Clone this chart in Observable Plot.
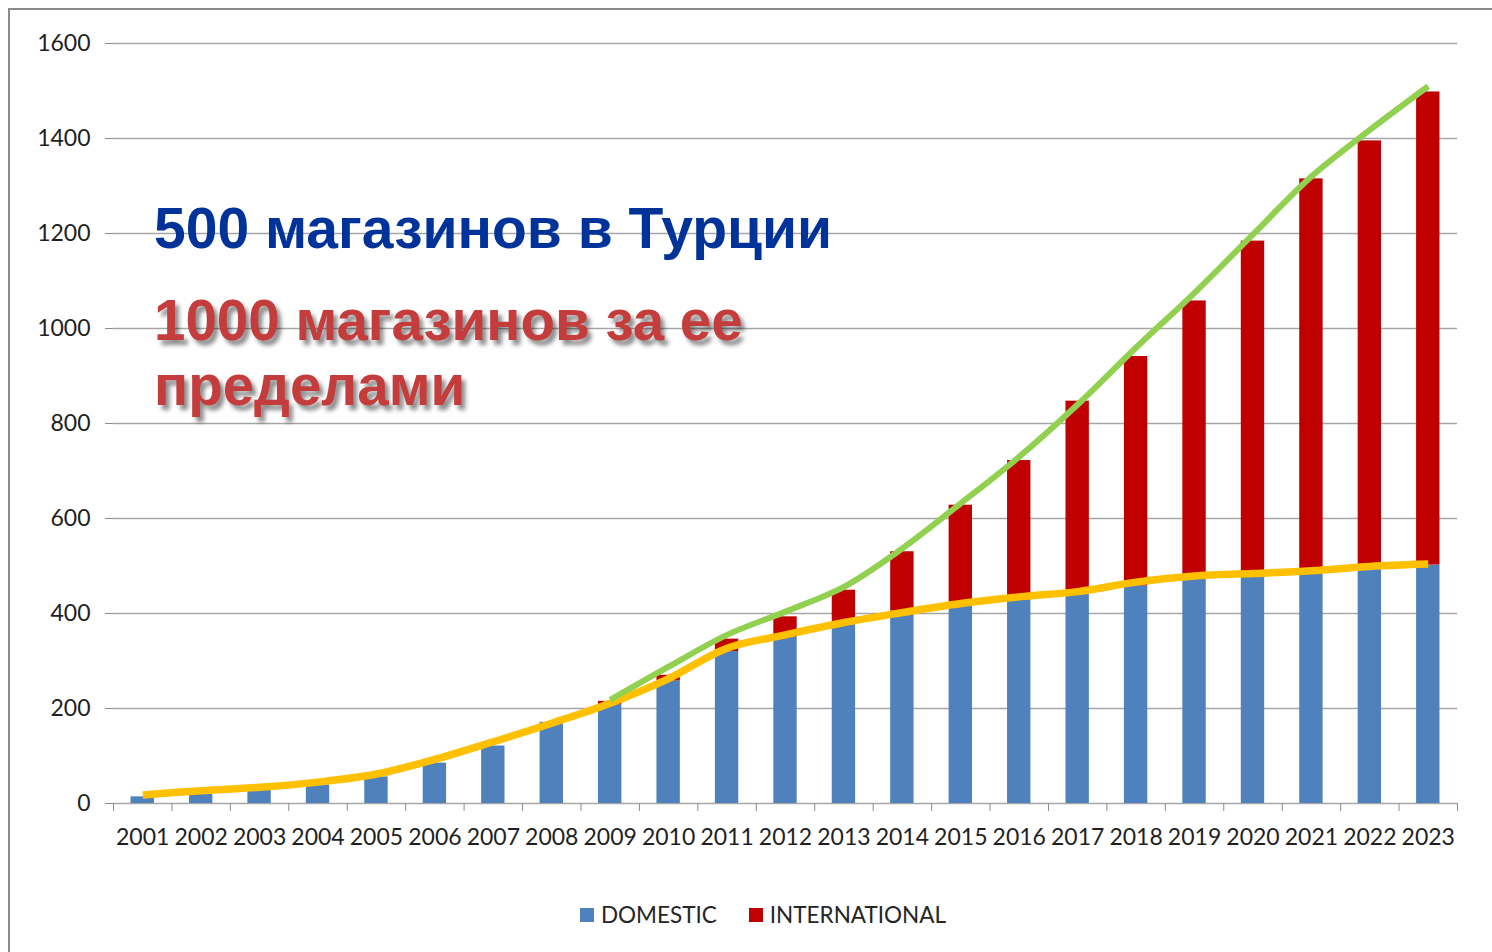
<!DOCTYPE html>
<html>
<head>
<meta charset="utf-8">
<script src="https://cdn.jsdelivr.net/npm/d3@7"></script>
<script src="https://cdn.jsdelivr.net/npm/@observablehq/plot@0.6"></script>
<style>
  html, body { margin: 0; padding: 0; background: #fff; }
  #wrap { position: relative; width: 1492px; height: 952px; overflow: hidden; background: #fff; }
  #frameTop { position: absolute; left: 8px; top: 8px; right: 0; height: 2px; background: #8a8a8a; }
  #frameLeft { position: absolute; left: 8px; top: 8px; bottom: 0; width: 2px; background: #8a8a8a; }
  #chart { position: absolute; left: 0; top: 0; }
  .note { position: absolute; left: 154px; font-family: "Liberation Sans", Arial, sans-serif; font-weight: bold; line-height: 65px; white-space: nowrap; }
  #note1 { top: 196px; color: #003399; font-size: 57px; }
  #note2 { top: 288px; color: #C43C3C; font-size: 56.5px; text-shadow: 4px 5px 4px rgba(0,0,0,0.45); }
  #legend { position: absolute; top: 901px; left: 0; width: 1492px; display: flex; justify-content: center; gap: 32px; font-family: Lato, "Open Sans", sans-serif; font-size: 22.5px; color: #262626; padding-left: 34px; box-sizing: border-box; }
  #legend .item { display: flex; align-items: center; gap: 7px; }
  #legend .sw { width: 14px; height: 14px; display: inline-block; }
</style>
</head>
<body>
<div id="wrap">
  <div id="chart"></div>
  <div id="frameTop"></div>
  <div id="frameLeft"></div>
  <div class="note" id="note1">500 магазинов в Турции</div>
  <div class="note" id="note2">1000 магазинов за ее<br>пределами</div>
  <div id="legend"></div>
</div>
<script>
const years = ["2001","2002","2003","2004","2005","2006","2007","2008","2009","2010","2011","2012","2013","2014","2015","2016","2017","2018","2019","2020","2021","2022","2023"];
const domestic =      [14, 19, 28, 39, 56, 85, 121, 171, 208, 258, 320, 350, 380, 405, 425, 437, 447, 458, 472, 480, 487, 493, 502];
const international = [0, 0, 0, 0, 0, 0, 0, 0, 7, 12, 26, 43, 69, 125, 203, 285, 400, 483, 586, 704, 828, 902, 996];
const domesticTrend = [18, 27, 34, 45, 62, 93, 130, 169, 211, 263, 327, 355, 381, 402, 421, 435, 446, 466, 479, 484, 490, 499, 504];
const totalTrendYears = ["2009","2010","2011","2012","2013","2014","2015","2016","2017","2018","2019","2020","2021","2022","2023"];
const totalTrend = [218, 288, 355, 404, 456, 537, 632, 730, 840, 960, 1075, 1198, 1320, 1418, 1510];
const seriesNames = ["DOMESTIC", "INTERNATIONAL"];
const seriesColors = ["#4F81BD", "#C00000"];
const yTicks = [0, 200, 400, 600, 800, 1000, 1200, 1400, 1600];

const bars = [];
years.forEach((y, i) => {
  bars.push({year: y, series: seriesNames[0], value: domestic[i]});
  bars.push({year: y, series: seriesNames[1], value: international[i]});
});
const yellow = years.map((y, i) => ({year: y, value: domesticTrend[i]}));
const green = totalTrendYears.map((y, i) => ({year: y, value: totalTrend[i]}));

const W = 1492, H = 870, ML = 113, MR = 35, MT = 43, MB = 67;
const step = (W - ML - MR) / years.length;
const font = "Lato, 'Open Sans', sans-serif";

const chart = Plot.plot({
  width: W, height: H,
  marginLeft: ML, marginRight: MR, marginTop: MT, marginBottom: MB,
  style: {fontFamily: font, fontSize: "23px", color: "#262626", background: "transparent", overflow: "visible"},
  x: {domain: years, paddingInner: 0.6, paddingOuter: 0.3, round: false, axis: null, label: null},
  y: {domain: [0, 1600], axis: null, label: null},
  color: {domain: seriesNames, range: seriesColors},
  marks: [
    Plot.gridY(yTicks, {stroke: "#A6A6A6", strokeOpacity: 1, strokeWidth: 1.3}),
    Plot.axisY(yTicks, {tickSize: 8, tickPadding: 15, tickFormat: d => String(d), label: null, stroke: "#8C8C8C", strokeOpacity: 1, fill: "#1f1f1f", fontSize: 23}),
    Plot.ruleX([0], {frameAnchor: "left", stroke: "#8C8C8C", strokeWidth: 1.3, y1: 0, y2: 1600}),
    Plot.axisX({tickSize: 8, tickFormat: () => "", label: null, dx: -step / 2, stroke: "#8C8C8C", strokeOpacity: 1}),
    Plot.axisX([years[years.length - 1]], {tickSize: 8, tickFormat: () => "", label: null, dx: step / 2, stroke: "#8C8C8C", strokeOpacity: 1}),
    Plot.axisX({tickSize: 0, tickPadding: 25, label: null, fill: "#1f1f1f", fontSize: 23}),
    Plot.barY(bars, {x: "year", y: "value", fill: "series"}),
    Plot.line(yellow, {x: "year", y: "value", stroke: "#FFC000", strokeWidth: 7.5, curve: "catmull-rom", strokeLinecap: "butt"}),
    Plot.line(green, {x: "year", y: "value", stroke: "#92D050", strokeWidth: 6, curve: "catmull-rom", strokeLinecap: "butt"})
  ]
});
document.getElementById("chart").appendChild(chart);

const legend = document.getElementById("legend");
seriesNames.forEach((name, i) => {
  const item = document.createElement("div");
  item.className = "item";
  const sw = document.createElement("span");
  sw.className = "sw";
  sw.style.background = seriesColors[i];
  const label = document.createElement("span");
  label.textContent = name;
  item.appendChild(sw);
  item.appendChild(label);
  legend.appendChild(item);
});
</script>
</body>
</html>
